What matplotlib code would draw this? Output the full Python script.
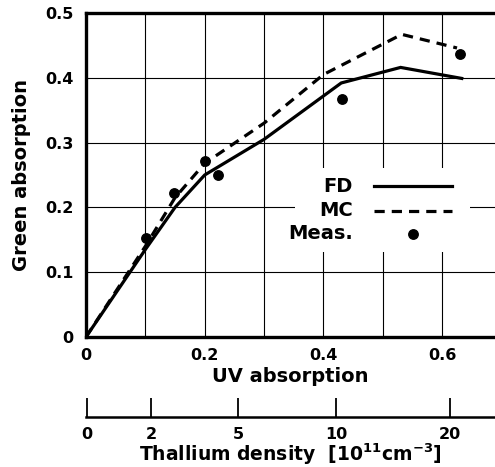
import matplotlib
matplotlib.use("Agg")
import matplotlib.pyplot as plt
from matplotlib.patches import Rectangle
from matplotlib.lines import Line2D

plt.rcParams['font.family'] = ['DejaVu Sans']
plt.rcParams['font.weight'] = 'bold'
plt.rcParams['mathtext.default'] = 'bf'

# FD (solid) and MC (dashed) model curves, measured points
fd_x = [0, 0.1, 0.15, 0.2, 0.3, 0.43, 0.53, 0.633]
fd_y = [0, 0.135, 0.2, 0.25, 0.305, 0.392, 0.416, 0.399]
mc_x = [0, 0.1, 0.15, 0.2, 0.3, 0.4, 0.532, 0.625]
mc_y = [0, 0.14, 0.215, 0.268, 0.33, 0.405, 0.467, 0.446]
meas_x = [0.101, 0.149, 0.2, 0.222, 0.431, 0.63]
meas_y = [0.153, 0.222, 0.271, 0.25, 0.367, 0.437]

# thallium density scale, placed at the matching UV absorption
dens_labels = ['0', '2', '5', '10', '20']
dens_uv = [0.002, 0.11, 0.256, 0.421, 0.613]

xticks = [0, 0.2, 0.4, 0.6]
yticks = [0, 0.1, 0.2, 0.3, 0.4, 0.5]
ytick_labels = ['0', '0.1', '0.2', '0.3', '0.4', '0.5']

fig = plt.figure(figsize=(4.95, 4.67), dpi=100)
ax = fig.add_axes([0.1737, 0.2784, 0.8263, 0.6938])
xmax = 0.689

# grid
for gx in [0.1, 0.2, 0.3, 0.4, 0.5, 0.6]:
    ax.axvline(gx, color='black', lw=0.8, zorder=1)
for gy in [0.1, 0.2, 0.3, 0.4]:
    ax.axhline(gy, color='black', lw=0.8, zorder=1)

ax.plot(fd_x, fd_y, color='black', lw=2.3, zorder=3, solid_joinstyle='miter')
ax.plot(mc_x, mc_y, color='black', lw=2.3, ls=(0, (3.2, 2.2)), zorder=3)
ax.plot(meas_x, meas_y, 'o', color='black', ms=6.8, zorder=4)

ax.set_xlim(0, xmax)
ax.set_ylim(0, 0.5)
ax.set_xticks(xticks)
ax.set_xticklabels(['0', '0.2', '0.4', '0.6'])
ax.set_yticks(yticks)
ax.set_yticklabels(ytick_labels)
ax.tick_params(length=0, labelsize=11.5, pad=9)
ax.tick_params(axis='x', pad=8)
ax.spines['right'].set_visible(False)
for s in ['left', 'bottom', 'top']:
    ax.spines[s].set_linewidth(2.4)
ax.set_xlabel('UV absorption', fontsize=14, fontweight='bold', labelpad=2.5)
ax.set_ylabel('Green absorption', fontsize=14, fontweight='bold', labelpad=10)

# legend drawn by hand: text on the left, handle on the right
ax.add_patch(Rectangle((0.511, 0.262), 0.428, 0.26, transform=ax.transAxes,
                       facecolor='white', edgecolor='none', zorder=2))
ax.text(0.653, 0.463, 'FD', transform=ax.transAxes, ha='right', va='center',
        fontsize=14, fontweight='bold', zorder=5)
ax.text(0.653, 0.389, 'MC', transform=ax.transAxes, ha='right', va='center',
        fontsize=14, fontweight='bold', zorder=5)
ax.text(0.653, 0.318, 'Meas.', transform=ax.transAxes, ha='right', va='center',
        fontsize=14, fontweight='bold', zorder=5)
ax.add_line(Line2D([0.704, 0.895], [0.466, 0.466], transform=ax.transAxes,
                   color='black', lw=2.3, zorder=5))
ax.add_line(Line2D([0.704, 0.895], [0.389, 0.389], transform=ax.transAxes,
                   color='black', lw=2.3, ls=(0, (3.2, 2.2)), zorder=5))
ax.add_line(Line2D([0.799], [0.318], transform=ax.transAxes, marker='o',
                   color='black', ms=6.8, ls='none', zorder=5))

# second scale: thallium density
ax2 = fig.add_axes([0.1737, 0.107, 0.8263, 0.03])
ax2.set_xlim(0, xmax)
ax2.set_ylim(0, 1)
for s in ['left', 'right', 'top']:
    ax2.spines[s].set_visible(False)
ax2.spines['bottom'].set_linewidth(1.8)
ax2.set_yticks([])
ax2.patch.set_visible(False)
ax2.set_xticks(dens_uv)
ax2.set_xticklabels(dens_labels)
ax2.tick_params(axis='x', direction='in', length=14, width=1.3, labelsize=11.5, pad=7)
ax2.set_xlabel('Thallium density  [10$^{11}$cm$^{-3}$]',
               fontsize=13.5, fontweight='bold', labelpad=0)

fig.savefig('out.png', dpi=100)
